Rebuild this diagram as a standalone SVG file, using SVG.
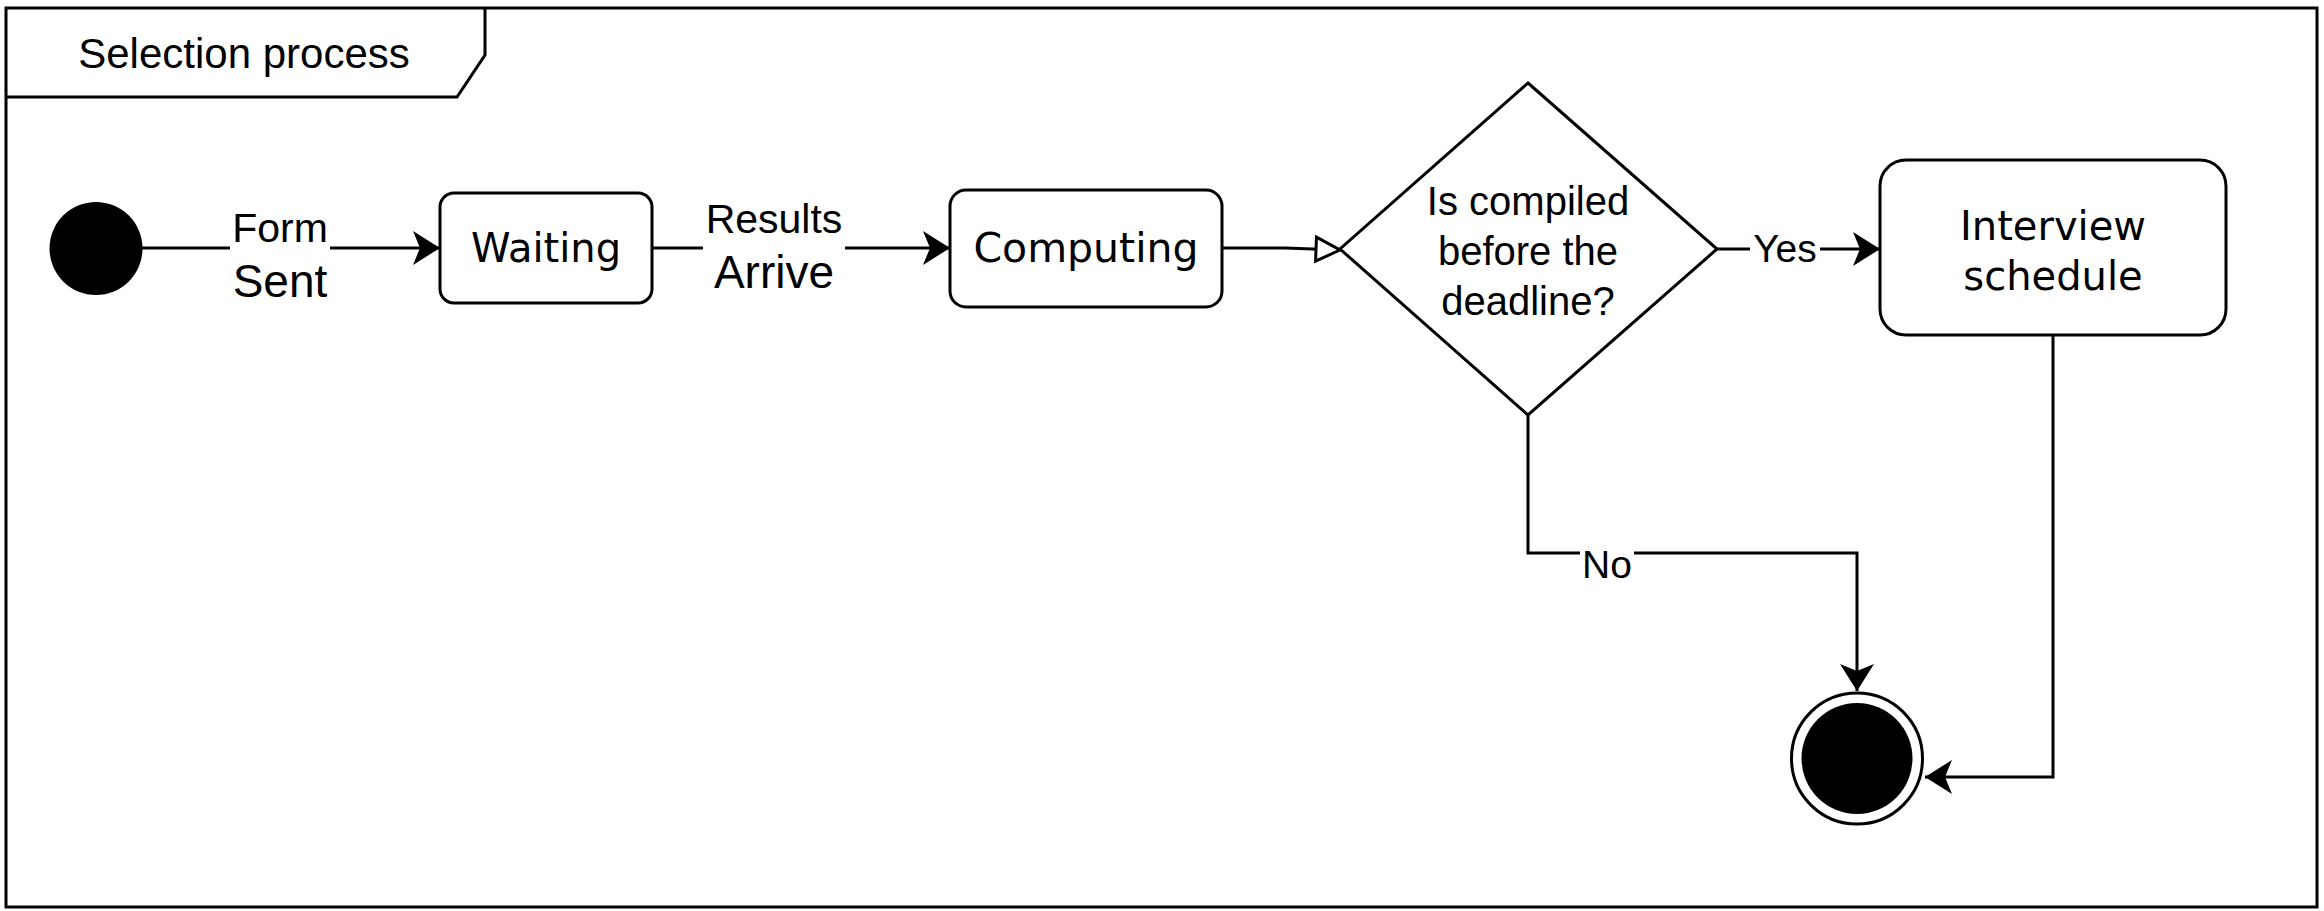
<svg xmlns="http://www.w3.org/2000/svg" width="2324" height="911" viewBox="0 0 2324 911">
<style>
.ln{fill:none;stroke:#000;stroke-width:3}
.box{fill:#fff;stroke:#000;stroke-width:3}
.lbl{font-family:"Liberation Sans",Arial,sans-serif;fill:#000;text-anchor:middle}
.nt{font-family:"DejaVu Sans",Verdana,sans-serif;font-size:40px;fill:#000;text-anchor:middle}
</style>
<defs>
<marker id="arr" markerUnits="userSpaceOnUse" markerWidth="30" markerHeight="36" viewBox="0 0 30 36" refX="28" refY="18" orient="auto">
<path d="M1,1 L28,18 L1,35 L8,18 Z" fill="#000"/>
</marker>
<marker id="tri" markerUnits="userSpaceOnUse" markerWidth="30" markerHeight="30" viewBox="0 0 30 30" refX="26" refY="15" orient="auto">
<path d="M2,3 L26,15 L2,27 Z" fill="#fff" stroke="#000" stroke-width="3"/>
</marker>
</defs>
<rect x="0" y="0" width="2324" height="911" fill="#fff"/>
<g id="frame">
<rect x="6" y="8" width="2311" height="899" class="ln"/>
<path d="M6,97 L457,97 L485,55 L485,8" class="ln"/>
<text x="244" y="68" class="lbl" font-size="42">Selection process</text>
</g>
<g id="connectors">
<path d="M142,248 L230,248" class="ln"/>
<path d="M330,248 L440,248" class="ln" marker-end="url(#arr)"/>
<text x="280" y="242" class="lbl" font-size="41">Form</text>
<text x="280" y="297" class="lbl" font-size="46">Sent</text>
<path d="M652,248 L703,248" class="ln"/>
<path d="M845,248 L950,248" class="ln" marker-end="url(#arr)"/>
<text x="774" y="233" class="lbl" font-size="41">Results</text>
<text x="774" y="288" class="lbl" font-size="46">Arrive</text>
<path d="M1222,248 L1285,248 L1340,250" class="ln" marker-end="url(#tri)"/>
<path d="M1717,249 L1750,249" class="ln"/>
<path d="M1820,249 L1880,249" class="ln" marker-end="url(#arr)"/>
<text x="1785" y="262" class="lbl" font-size="39">Yes</text>
<path d="M1528,415 L1528,553 L1580,553" class="ln"/>
<path d="M1634,553 L1857,553 L1857,691" class="ln" marker-end="url(#arr)"/>
<text x="1607" y="578" class="lbl" font-size="39">No</text>
<path d="M2053,335 L2053,777 L1925,777" class="ln" marker-end="url(#arr)"/>
</g>
<g id="start">
<circle cx="96" cy="248.5" r="46.5" fill="#000"/>
</g>
<g id="waiting">
<rect x="440" y="193" width="212" height="110" rx="14" class="box"/>
<text x="546" y="262" class="nt">Waiting</text>
</g>
<g id="computing">
<rect x="950" y="190" width="272" height="117" rx="16" class="box"/>
<text x="1086" y="262" class="nt" font-size="41" style="font-size:41px">Computing</text>
</g>
<g id="decision">
<path d="M1528,83 L1717,249 L1528,415 L1340,249 Z" class="box"/>
<text x="1528" y="215" class="lbl" font-size="40">Is compiled</text>
<text x="1528" y="265" class="lbl" font-size="40">before the</text>
<text x="1528" y="315" class="lbl" font-size="40">deadline?</text>
</g>
<g id="interview">
<rect x="1880" y="160" width="346" height="175" rx="26" class="box"/>
<text x="2053" y="240" class="nt">Interview</text>
<text x="2053" y="290" class="nt">schedule</text>
</g>
<g id="end">
<circle cx="1857" cy="758.5" r="65.5" fill="#fff" stroke="#000" stroke-width="3"/>
<circle cx="1857" cy="758.5" r="55.5" fill="#000"/>
</g>
</svg>
